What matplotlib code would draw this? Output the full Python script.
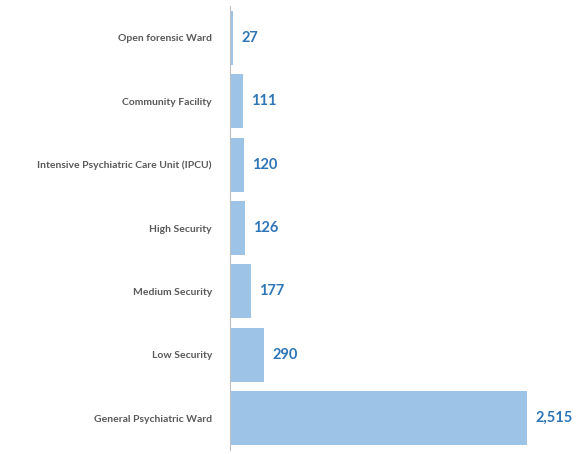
import matplotlib
matplotlib.use("Agg")
import matplotlib.pyplot as plt

categories = ["General Psychiatric Ward", "Low Security", "Medium Security", "High Security",
              "Intensive Psychiatric Care Unit (IPCU)", "Community Facility", "Open forensic Ward"]
values = [2515, 290, 177, 126, 120, 111, 27]

plt.rcParams["font.family"] = ["Lato", "DejaVu Sans"]
fig = plt.figure(figsize=(5.85, 4.54), dpi=100)
ax = fig.add_axes([230/585, 4/454, 349/585, 444/454])
ax.barh(range(len(values)), values, height=0.85, color="#9DC3E6")
ax.set_xlim(0, 2515 * 349 / 297)
ax.set_ylim(-0.5, len(values) - 0.5)
ax.set_yticks(range(len(values)))
ax.set_yticklabels(categories, fontsize=7.5, fontweight="bold", color="#595959")
ax.tick_params(axis="y", length=0, pad=13)
ax.set_xticks([])
for s in ["top", "right", "bottom"]:
    ax.spines[s].set_visible(False)
ax.spines["left"].set_color("#BFBFBF")
for i, v in enumerate(values):
    ax.text(v + 2515 * 8 / 297, i, f"{v:,}", va="center", ha="left",
            fontsize=10.5, fontweight="bold", color="#2E75B6")
fig.savefig("out.png", dpi=100)
